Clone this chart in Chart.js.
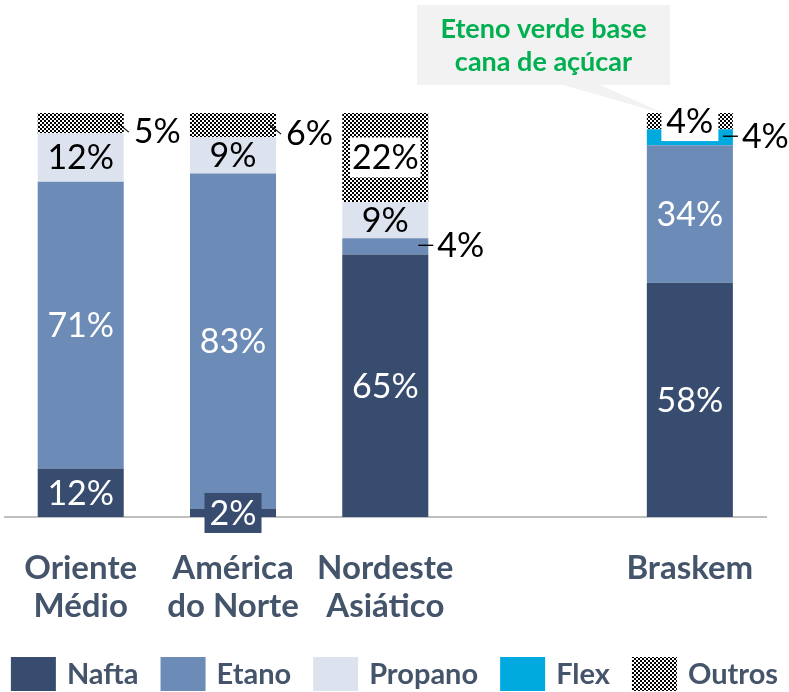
<!DOCTYPE html>
<html>
<head>
<meta charset="utf-8">
<script src="https://cdn.jsdelivr.net/npm/chart.js@4/dist/chart.umd.min.js"></script>
<style>
  html, body { margin: 0; padding: 0; background: #fff; }
  #wrap { width: 789px; height: 692px; position: relative; }
</style>
</head>
<body>
<div id="wrap"><canvas id="c" width="789" height="692"></canvas></div>
<script>
// ---- data ----
const categories = [['Oriente', 'Médio'], ['América', 'do Norte'], ['Nordeste', 'Asiático'], '', 'Braskem'];
const seriesNames = ['Nafta', 'Etano', 'Propano', 'Flex', 'Outros'];
const nafta   = [12, 2, 65, null, 58];
const etano   = [71, 83, 4, null, 34];
const propano = [12, 9, 9, null, 0];
const flex    = [0, 0, 0, null, 4];
const outros  = [5, 6, 22, null, 4];
const calloutLines = ['Eteno verde base', 'cana de açúcar'];

// ---- styles ----
const colors = ['#374c6e', '#6c8bb7', '#dde3ee', '#00a9de'];
function checker() {
  const c = document.createElement('canvas');
  c.width = 4; c.height = 4;
  const g = c.getContext('2d');
  g.fillStyle = '#fff'; g.fillRect(0, 0, 4, 4);
  g.fillStyle = '#000'; g.fillRect(0, 0, 2, 2); g.fillRect(2, 2, 2, 2);
  return g.createPattern(c, 'repeat');
}
const pattern = checker();
const textColor = '#44546a';
const labelFont = '34px Lato';
const labelColors = ['#fff', '#fff', '#000', '#000', '#000'];
// special label treatment by "dataset:index"
const special = {
  '4:0': 'diag', '4:1': 'diag', '1:2': 'horiz', '3:4': 'horiz',
  '4:2': 'whitebox', '4:4': 'whitebox', '0:1': 'darkbox'
};

const seriesData = [nafta, etano, propano, flex, outros];
const datasets = seriesNames.map((n, i) => ({
  label: n,
  data: seriesData[i],
  backgroundColor: i === 4 ? pattern : colors[i],
  borderWidth: 0,
  categoryPercentage: 1,
  barPercentage: 0.565
}));

const segLabels = {
  id: 'segLabels',
  afterDatasetsDraw(chart) {
    const ctx = chart.ctx;
    // callout
    const bk = chart.getDatasetMeta(4).data[4];
    const tipX = bk.x - 22, tipY = bk.y + 2;
    ctx.save();
    ctx.fillStyle = '#f2f2f2';
    const bx0 = 417, bx1 = 670, by0 = 5, by1 = 85;
    ctx.beginPath();
    ctx.moveTo(bx0, by0); ctx.lineTo(bx1, by0); ctx.lineTo(bx1, by1);
    ctx.lineTo(600, by1); ctx.lineTo(tipX, tipY); ctx.lineTo(563, by1);
    ctx.lineTo(bx0, by1); ctx.closePath(); ctx.fill();
    ctx.fillStyle = '#00b050';
    ctx.font = 'bold 27px Lato';
    ctx.textAlign = 'center'; ctx.textBaseline = 'middle';
    ctx.fillText(calloutLines[0], (bx0 + bx1) / 2, 29);
    ctx.fillText(calloutLines[1], (bx0 + bx1) / 2, 62);
    ctx.restore();

    chart.data.datasets.forEach((ds, di) => {
      const meta = chart.getDatasetMeta(di);
      meta.data.forEach((bar, i) => {
        const v = ds.data[i];
        if (!v) return;
        const txt = v + '%';
        const top = Math.min(bar.y, bar.base), bot = Math.max(bar.y, bar.base);
        const cy = (top + bot) / 2;
        const right = bar.x + bar.width / 2;
        const kind = special[di + ':' + i];
        ctx.save();
        ctx.font = labelFont;
        ctx.textBaseline = 'middle';
        ctx.textAlign = 'center';
        if (kind === 'diag') {
          ctx.strokeStyle = '#000'; ctx.lineWidth = 1.2;
          ctx.beginPath(); ctx.moveTo(right - 7, cy - 1); ctx.lineTo(right + 5, cy + 9); ctx.stroke();
          ctx.fillStyle = '#000'; ctx.textAlign = 'left';
          ctx.fillText(txt, right + 10, cy + 9);
        } else if (kind === 'horiz') {
          ctx.strokeStyle = '#000'; ctx.lineWidth = 1.4;
          ctx.beginPath(); ctx.moveTo(right - 10, cy - 1); ctx.lineTo(right + 5, cy - 1); ctx.stroke();
          ctx.fillStyle = '#000'; ctx.textAlign = 'left';
          ctx.fillText(txt, right + 9, cy);
        } else if (kind === 'whitebox' || kind === 'darkbox') {
          const w = Math.max(ctx.measureText(txt).width + 4, 57);
          ctx.fillStyle = kind === 'whitebox' ? '#fff' : colors[0];
          ctx.fillRect(bar.x - w / 2, cy - 20, w, 40);
          ctx.fillStyle = kind === 'whitebox' ? '#000' : '#fff';
          ctx.fillText(txt, bar.x, cy + 1);
        } else {
          ctx.fillStyle = labelColors[di];
          ctx.fillText(txt, bar.x, cy + 1);
        }
        ctx.restore();
      });
    });
  },
  afterDraw(chart) {
    // legend drawn from the datasets
    const ctx = chart.ctx;
    ctx.save();
    ctx.font = 'bold 29px Lato';
    const boxW = 45, boxH = 34, gapText = 11, gapItem = 22;
    const items = chart.data.datasets.map(d => ({ label: d.label, color: d.backgroundColor, w: ctx.measureText(d.label).width }));
    const total = items.reduce((s, it) => s + boxW + gapText + it.w, 0) + gapItem * (items.length - 1);
    let x = (chart.width - total) / 2;
    const top = 657;
    ctx.textBaseline = 'middle'; ctx.textAlign = 'left';
    items.forEach(it => {
      ctx.fillStyle = it.color;
      ctx.fillRect(x, top, boxW, boxH);
      ctx.fillStyle = textColor;
      ctx.fillText(it.label, x + boxW + gapText, top + boxH / 2 + 1);
      x += boxW + gapText + it.w + gapItem;
    });
    ctx.restore();
  }
};

new Chart(document.getElementById('c'), {
  type: 'bar',
  data: { labels: categories, datasets },
  plugins: [segLabels],
  options: {
    responsive: false,
    animation: false,
    layout: { padding: { top: 113, left: 3, right: 23, bottom: 51 } },
    scales: {
      x: {
        stacked: true,
        grid: { display: false },
        border: { display: true, color: '#bfbfbf', width: 2 },
        ticks: {
          color: textColor,
          font: { family: 'Lato', weight: 'bold', size: 33, lineHeight: 1.15 },
          padding: 24,
          maxRotation: 0,
          autoSkip: false
        },
        afterFit: (s) => { s.height = 124; }
      },
      y: { stacked: true, display: false, min: 0, max: 100 }
    },
    plugins: {
      legend: { display: false },
      tooltip: { enabled: false }
    }
  }
});
</script>
</body>
</html>
